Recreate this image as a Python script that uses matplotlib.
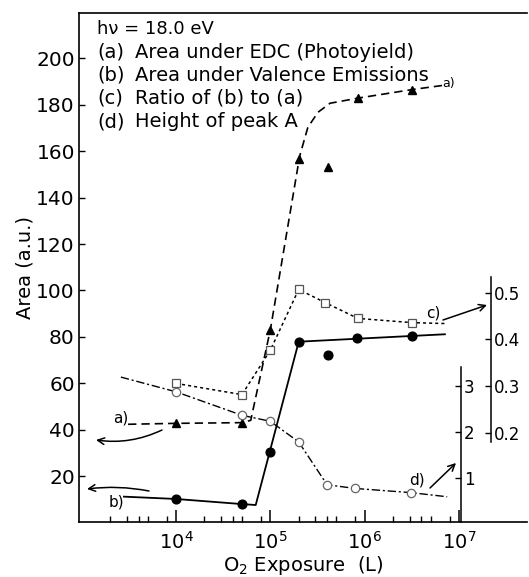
import matplotlib
matplotlib.use('Agg')
import matplotlib.pyplot as plt
from matplotlib.ticker import FixedLocator, NullFormatter

plt.rcParams['font.family'] = ['DejaVu Sans']

# ---------------- data ----------------
# (a) Area under EDC (photoyield) -- left axis
a_x = [1e4, 5e4, 1e5, 2e5, 4.1e5, 8.5e5, 3.2e6]
a_y = [42.7, 43.0, 82.9, 156.5, 153.3, 182.9, 186.6]
a_line_x = [3.1e3, 1e4, 5e4, 6.2e4, 1e5, 2.05e5, 2.5e5, 3.2e5, 4.3e5, 8.5e5, 3.2e6, 6.8e6]
a_line_y = [42.3, 42.7, 43.0, 44.0, 83.0, 158.0, 170.3, 176.8, 180.7, 182.9, 186.6, 188.4]

# (b) Area under valence emissions -- left axis
b_x = [1e4, 5e4, 1e5, 2e5, 4.1e5, 8.3e5, 3.2e6]
b_y = [10.1, 7.9, 30.5, 77.9, 72.2, 79.6, 80.5]
b_line_x = [2.8e3, 1e4, 5e4, 7e4, 2e5, 7.1e6]
b_line_y = [11.1, 10.1, 7.9, 7.5, 77.9, 81.1]

# (c) Ratio of (b) to (a) -- outer right axis
c_x = [1e4, 5e4, 1e5, 2e5, 3.8e5, 8.5e5, 3.2e6]
c_y = [0.306, 0.282, 0.377, 0.507, 0.479, 0.445, 0.436]
c_line_x = c_x + [7.4e6]
c_line_y = c_y + [0.434]

# (d) Height of peak A -- inner right axis
d_x = [1e4, 5e4, 1e5, 2e5, 4e5, 8e5, 3.1e6]
d_y = [2.88, 2.37, 2.24, 1.79, 0.86, 0.78, 0.69]
d_line_x = [2.6e3] + d_x + [7.5e6]
d_line_y = [3.2] + d_y + [0.6]

left_ticks = [20, 40, 60, 80, 100, 120, 140, 160, 180, 200]
c_ticks = [0.2, 0.3, 0.4, 0.5]
c_ticklabels = ['0.2', '0.3', '0.4', '0.5']
d_ticks = [1, 2, 3]
x_major = [1e4, 1e5, 1e6, 1e7]
x_labels = ['$10^{4}$', '$10^{5}$', '$10^{6}$', '$10^{7}$']
x_minor_subs = [2, 3, 4, 5, 8]

legend_lines = [('(a)', 'Area under EDC (Photoyield)'),
                ('(b)', 'Area under Valence Emissions'),
                ('(c)', 'Ratio of (b) to (a)'),
                ('(d)', 'Height of peak A')]

# ---------------- figure ----------------
W, H = 529, 577
fig = plt.figure(figsize=(W / 100, H / 100), dpi=100)
L, R, T, B = 79, 527, 13, 522.4
ax = fig.add_axes([L / W, 1 - B / H, (R - L) / W, (B - T) / H])
ax.set_xscale('log')
ax.set_xlim(10 ** 2.971, 10 ** 7.722)
ax.set_ylim(0, 219.6)

lw = 1.2
for s in ['left', 'bottom', 'top']:
    ax.spines[s].set_linewidth(lw)
ax.spines['right'].set_visible(False)

ax.xaxis.set_major_locator(FixedLocator(x_major))
ax.set_xticklabels(x_labels, fontsize=14)
minor = [s * 10 ** e for e in range(3, 7) for s in x_minor_subs]
ax.xaxis.set_minor_locator(FixedLocator(minor))
ax.xaxis.set_minor_formatter(NullFormatter())
ax.tick_params(axis='x', which='major', direction='in', length=9, width=1.1, pad=6, top=False)
ax.tick_params(axis='x', which='minor', direction='in', length=4.5, width=1.0, top=False)

ax.set_yticks(left_ticks)
ax.set_yticklabels([str(t) for t in left_ticks], fontsize=14.5)
ax.tick_params(axis='y', which='major', direction='in', length=4, width=1.0, pad=3)
ax.tick_params(axis='y', which='minor', left=False)

ax.set_xlabel('O$_2$ Exposure  (L)', fontsize=14, labelpad=1)
ax.set_ylabel('Area (a.u.)', fontsize=14, labelpad=1)

# series a
ax.plot(a_line_x, a_line_y, color='black', lw=1.2, ls=(0, (5, 3)), zorder=2)
ax.plot(a_x, a_y, ls='none', marker='^', ms=5.5, color='black', zorder=4)
# series b
ax.plot(b_line_x, b_line_y, color='black', lw=1.3, ls='-', zorder=2)
ax.plot(b_x, b_y, ls='none', marker='o', ms=6.3, color='black', zorder=4)

# right axis for (c)
axc = ax.twinx()
axc.set_ylim(0.0086, 1.0985)
for s in ['left', 'top', 'bottom']:
    axc.spines[s].set_visible(False)
axc.spines['right'].set_position(('axes', (491 - L) / (R - L)))
axc.spines['right'].set_bounds(0.18, 0.533)
axc.spines['right'].set_linewidth(1.1)
axc.set_yticks(c_ticks)
axc.set_yticklabels(c_ticklabels, fontsize=12)
axc.tick_params(axis='y', direction='in', length=4, width=1.0, pad=2)
axc.plot(c_line_x, c_line_y, color='black', lw=1.1, ls=(0, (2, 2)), zorder=2)
axc.plot(c_x, c_y, ls='none', marker='s', ms=6, mfc='white', mec='#555555', mew=0.9, zorder=4)

# right axis for (d)
axd = ax.twinx()
axd.set_ylim(0.043, 11.11)
for s in ['left', 'top', 'bottom']:
    axd.spines[s].set_visible(False)
axd.spines['right'].set_position(('axes', (461 - L) / (R - L)))
axd.spines['right'].set_bounds(0.043, 3.41)
axd.spines['right'].set_linewidth(1.1)
axd.set_yticks(d_ticks)
axd.set_yticklabels([str(t) for t in d_ticks], fontsize=12)
axd.tick_params(axis='y', direction='in', length=4, width=1.0, pad=2)
axd.plot(d_line_x, d_line_y, color='black', lw=1.0, ls=(0, (6, 2, 1.5, 2)), zorder=2)
axd.plot(d_x, d_y, ls='none', marker='o', ms=6, mfc='white', mec='#666666', mew=0.9, zorder=4)


def fx(x):
    return (x - L) / (R - L)


def fy(y):
    return (B - y) / (B - T)


# legend text block
top = axd  # draw on the top-most axes
top.text(fx(97), fy(29), 'h\u03bd = 18.0 eV', transform=top.transAxes, fontsize=13,
         va='center', ha='left')
for i, (k, txt) in enumerate(legend_lines):
    yy = fy(52 + 23.2 * i)
    top.text(fx(97), yy, k, transform=top.transAxes, fontsize=14, va='center', ha='left')
    top.text(fx(135), yy, txt, transform=top.transAxes, fontsize=14, va='center', ha='left')

# curve labels
top.text(fx(449), fy(83), 'a)', transform=top.transAxes, fontsize=9, va='center', ha='center')
top.text(fx(121), fy(418), 'a)', transform=top.transAxes, fontsize=11, va='center', ha='center')
top.text(fx(116), fy(502), 'b)', transform=top.transAxes, fontsize=11, va='center', ha='center')
top.text(fx(433), fy(313), 'c)', transform=top.transAxes, fontsize=11, va='center', ha='center')
top.text(fx(417), fy(480), 'd)', transform=top.transAxes, fontsize=11, va='center', ha='center')

arrow_kw = dict(arrowstyle='->', color='black', lw=1.1, shrinkA=0, shrinkB=0,
                mutation_scale=12)
top.annotate('', xy=(fx(96), fy(440)), xytext=(fx(162), fy(430)),
             xycoords='axes fraction', textcoords='axes fraction',
             arrowprops=dict(connectionstyle='arc3,rad=-0.15', **arrow_kw))
top.annotate('', xy=(fx(87), fy(489)), xytext=(fx(149), fy(491)),
             xycoords='axes fraction', textcoords='axes fraction',
             arrowprops=dict(connectionstyle='arc3,rad=0.08', **arrow_kw))
top.annotate('', xy=(fx(487), fy(305)), xytext=(fx(443), fy(320)),
             xycoords='axes fraction', textcoords='axes fraction',
             arrowprops=dict(connectionstyle='arc3,rad=0', **arrow_kw))
top.annotate('', xy=(fx(456), fy(463)), xytext=(fx(430), fy(488)),
             xycoords='axes fraction', textcoords='axes fraction',
             arrowprops=dict(connectionstyle='arc3,rad=0', **arrow_kw))

fig.savefig('out.png', dpi=100)
